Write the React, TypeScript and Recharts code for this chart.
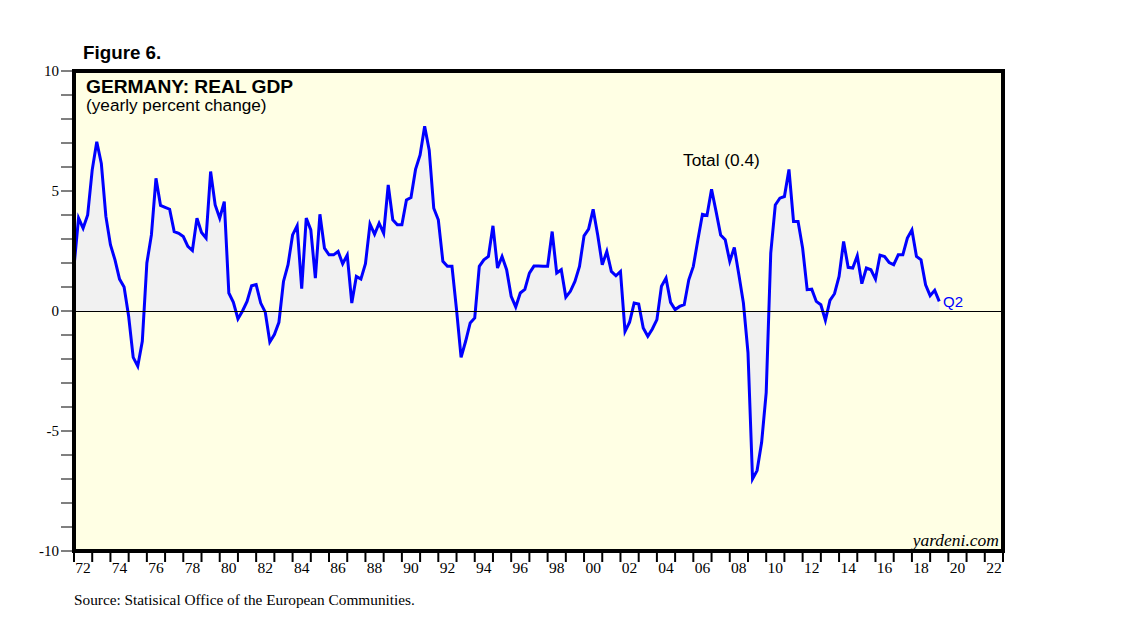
import React from 'react';
import {
  ComposedChart,
  Area,
  XAxis,
  YAxis,
  CartesianGrid,
  ReferenceLine,
  ReferenceArea,
} from 'recharts';

// quarterly yearly % change, first point plotted at 1972.0 (end of 71Q4)
const startYear = 1972;
const gdp1972to1979 = [
  1.86, 3.87, 3.45, 4.0, 5.88, 7.05, 6.15, 3.94, 2.76, 2.13, 1.33, 1.0, -0.22, -1.93, -2.3, -1.26,
  2.0, 3.17, 5.53, 4.4, 4.32, 4.24, 3.31, 3.24, 3.1, 2.69, 2.52, 3.87, 3.27, 3.04, 5.81, 4.42,
];
const gdp1980to1989 = [
  3.87, 4.56, 0.75, 0.36, -0.33, 0.0, 0.4, 1.05, 1.1, 0.33, -0.05, -1.29, -0.98, -0.47, 1.23, 1.93,
  3.17, 3.55, 0.93, 3.87, 3.38, 1.37, 4.03, 2.62, 2.34, 2.34, 2.48, 1.97, 2.33, 0.33, 1.44, 1.33,
  1.97, 3.62, 3.2, 3.66, 3.24, 5.25, 3.8, 3.59,
];
const gdp1990to1999 = [
  3.59, 4.63, 4.73, 5.9, 6.5, 7.7, 6.7, 4.28, 3.8, 2.07, 1.86, 1.86, 0.06, -1.93, -1.26, -0.5,
  -0.29, 1.86, 2.13, 2.27, 3.55, 1.79, 2.27, 1.72, 0.61, 0.17, 0.75, 0.9, 1.58, 1.87, 1.87, 1.86,
  1.86, 3.31, 1.58, 1.72, 0.58, 0.82, 1.23, 1.86,
];
const gdp2000to2009 = [
  3.13, 3.41, 4.24, 3.17, 1.93, 2.48, 1.65, 1.47, 1.65, -0.85, -0.47, 0.33, 0.29, -0.71, -1.05, -0.75,
  -0.36, 1.03, 1.37, 0.36, 0.06, 0.19, 0.26, 1.3, 1.86, 2.97, 4.03, 3.98, 5.07, 4.14, 3.17, 2.97,
  2.07, 2.65, 1.51, 0.33, -1.73, -7.0, -6.65, -5.47,
];
const gdp2010to2019 = [
  -3.4, 2.41, 4.42, 4.7, 4.77, 5.9, 3.73, 3.73, 2.62, 0.89, 0.91, 0.4, 0.26, -0.39, 0.44, 0.72,
  1.44, 2.9, 1.82, 1.79, 2.3, 1.14, 1.79, 1.72, 1.33, 2.33, 2.27, 2.02, 1.93, 2.34, 2.34, 3.04,
  3.38, 2.27, 2.13, 1.09, 0.64, 0.86, 0.4,
];

const yearTicks = Array.from({ length: 52 }, (_, k) => 1972 + k);
const yTicks = Array.from({ length: 21 }, (_, k) => -10 + k);

const values = [...gdp1972to1979, ...gdp1980to1989, ...gdp1990to1999, ...gdp2000to2009, ...gdp2010to2019];
const data = values.map((v, i) => ({ t: startYear + i * 0.25, v }));

const serif = '"Liberation Serif", "Times New Roman", serif';
const sans = '"Liberation Sans", Arial, sans-serif';

const XTick = (props: any) => {
  const { x, y, payload } = props;
  const yr = payload.value;
  return (
    <g>
      <line x1={x} x2={x} y1={y} y2={y + 11} stroke="#000" strokeWidth={2} />
      {yr % 2 === 0 && yr < 2023 && (
        <text x={x + 9.1} y={y + 21.5} textAnchor="middle" fontFamily={serif} fontSize={15.5} fill="#000">
          {String(yr).slice(2)}
        </text>
      )}
    </g>
  );
};

const LeftTick = (props: any) => {
  const { x, y, payload } = props;
  const v = payload.value;
  return (
    <g>
      <line x1={x - 13} x2={x} y1={y} y2={y} stroke="#000" strokeWidth={1} />
      {v % 5 === 0 && (
        <text x={x - 15} y={y} textAnchor="end" dominantBaseline="central" fontFamily={serif} fontSize={15} fill="#000">
          {v}
        </text>
      )}
    </g>
  );
};

const RightTick = (props: any) => {
  const { x, y, payload } = props;
  const v = payload.value;
  return (
    <g>
      <line x1={x} x2={x + 12} y1={y} y2={y} stroke="#000" strokeWidth={1} />
      {v % 5 === 0 && (
        <text x={x + 14} y={y} textAnchor="start" dominantBaseline="central" fontFamily={serif} fontSize={15} fill="#000">
          {v}
        </text>
      )}
    </g>
  );
};

export default function App() {
  return (
    <div style={{ position: 'absolute', left: 0, top: 0, width: 1138, height: 631, background: '#fff' }}>
      <ComposedChart
        width={1138}
        height={631}
        data={data}
        margin={{ top: 71, right: 95, bottom: 50, left: 34 }}
      >
        <CartesianGrid horizontal={false} vertical={false} fill="#FFFFE4" />
        <XAxis
          dataKey="t"
          type="number"
          domain={[1972, 2023]}
          ticks={yearTicks}
          interval={0}
          height={30}
          axisLine={false}
          tickLine={false}
          tickSize={0}
          tickMargin={0}
          tick={<XTick />}
        />
        <YAxis
          yAxisId="l"
          domain={[-10, 10]}
          ticks={yTicks}
          interval={0}
          width={40}
          axisLine={false}
          tickLine={false}
          tickSize={0}
          tickMargin={0}
          tick={<LeftTick />}
        />
        <YAxis
          yAxisId="r"
          orientation="right"
          domain={[-10, 10]}
          ticks={yTicks}
          interval={0}
          width={40}
          axisLine={false}
          tickLine={false}
          tickSize={0}
          tickMargin={0}
          tick={<RightTick />}
        />
        <Area
          yAxisId="l"
          type="linear"
          dataKey="v"
          baseValue={0}
          fill="#F1F1F1"
          fillOpacity={1}
          stroke="none"
          dot={false}
          activeDot={false}
          isAnimationActive={false}
        />
        <ReferenceLine yAxisId="l" y={0} stroke="#000" strokeWidth={1} shapeRendering="crispEdges" />
        <Area
          yAxisId="l"
          type="linear"
          dataKey="v"
          baseValue={0}
          fill="none"
          fillOpacity={0}
          stroke="#0000FF"
          strokeWidth={3}
          dot={false}
          activeDot={false}
          isAnimationActive={false}
        />
        <ReferenceArea
          yAxisId="l"
          x1={1972}
          x2={2023}
          y1={-10}
          y2={10}
          fill="none"
          fillOpacity={0}
          stroke="#000"
          strokeWidth={4}
        />
      </ComposedChart>
      <svg
        width={1138}
        height={631}
        style={{ position: 'absolute', left: 0, top: 0, pointerEvents: 'none' }}
      >
        <text x={83} y={59} fontFamily={sans} fontWeight="bold" fontSize={18.8} fill="#000">
          Figure 6.
        </text>
        <text x={86} y={92.5} fontFamily={sans} fontWeight="bold" fontSize={19.2} fill="#000">
          GERMANY: REAL GDP
        </text>
        <text x={86} y={111} fontFamily={sans} fontSize={17.2} fill="#000">
          (yearly percent change)
        </text>
        <text x={683} y={166} fontFamily={sans} fontSize={17.3} fill="#000">
          Total (0.4)
        </text>
        <text x={943} y={306.5} fontFamily={sans} fontSize={15} fill="#0000FF">
          Q2
        </text>
        <text x={999} y={545.5} textAnchor="end" fontFamily={serif} fontStyle="italic" fontSize={17.5} fill="#000">
          yardeni.com
        </text>
        <text x={74} y={605} fontFamily={serif} fontSize={15.3} fill="#000">
          Source: Statisical Office of the European Communities.
        </text>
      </svg>
    </div>
  );
}
